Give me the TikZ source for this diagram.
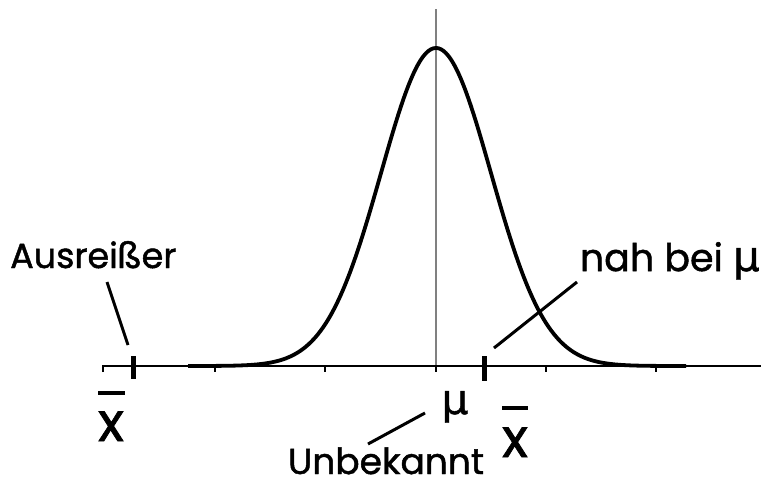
\documentclass[tikz,border=0pt]{standalone}
\usepackage{fontspec}
\setmainfont{Poppins}[FakeBold=1.3]
\newfontfamily\greekfont{DejaVu Sans}[FakeBold=1]
\tikzset{
  lbl/.style={inner sep=0pt},
  xlbl/.style={inner sep=0pt, font=\fontsize{54}{58}\selectfont},
  pointer/.style={line width=3pt},
  valmark/.style={line width=5pt},
  xbar/.style={line width=4pt},
}
\begin{document}
\begin{tikzpicture}[x=1pt,y=-1pt]
\useasboundingbox (0,0) rectangle (761,488);
% vertical line at mu
\draw[gray, line width=1.2pt] (436,9) -- (436,366);
% axis
\coordinate (axL) at (103,366);
\coordinate (axR) at (761,366);
\draw[line width=2.5pt] (103,372) -- (axL) -- (axR);
% ticks
\foreach \t in {215,325,436,546,656}{
  \draw[line width=1.5pt] (\t,366) -- (\t,372);
}
% gaussian
\draw[line width=3.8pt, line join=round] plot[domain=188:686, samples=200, smooth]
  (\x, {366 - 318*exp(-0.5*((\x-436)/55)^2)});
% marks
\coordinate (mL1) at (133,356);
\coordinate (mL2) at (133,379);
\draw[valmark] (mL1) -- (mL2);
\coordinate (mR1) at (484,356);
\coordinate (mR2) at (484,381);
\draw[valmark] (mR1) -- (mR2);
% labels
\node[lbl, anchor=base west, font=\fontsize{35}{38}\selectfont] (ausr) at (10,268) {Ausreißer};
\node[lbl, anchor=base east, font=\fontsize{38}{40}\selectfont] (nah) at (760,271) {nah bei {\greekfont\fontsize{42}{44}\selectfont μ}};
\node[lbl, anchor=base, font=\fontsize{36}{40}\selectfont] (unb) at (386,474) {Unbekannt};
\node[inner sep=0pt, anchor=base, font=\greekfont\fontsize{42}{44}\selectfont] (mu) at (455,414) {μ};
% x-bar labels
\node[xlbl, anchor=base] (xL) at (111,441) {x};
\draw[xbar] (98,393) -- (125,393);
\node[xlbl, anchor=base] (xR) at (515,457) {x};
\draw[xbar] (502,408) -- (528,408);
% pointer lines
\coordinate (pa1) at (107,282);
\coordinate (pa2) at (128,345);
\draw[pointer] (pa1) -- (pa2);
\coordinate (pn1) at (494,348);
\coordinate (pn2) at (577,282);
\draw[pointer] (pn1) -- (pn2);
\coordinate (pu1) at (425,413);
\coordinate (pu2) at (368,444);
\draw[pointer] (pu1) -- (pu2);
\end{tikzpicture}
\end{document}
